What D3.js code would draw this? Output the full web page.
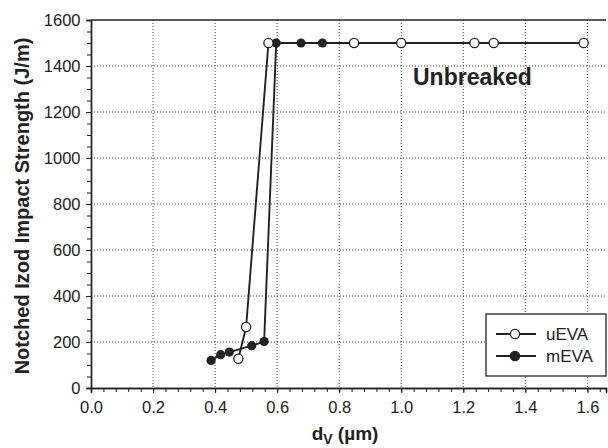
<!DOCTYPE html>
<html><head><meta charset="utf-8">
<script src="https://cdn.jsdelivr.net/npm/d3@7"></script>
<style>body{margin:0;background:#fff;} text{font-family:"Liberation Sans",Arial,sans-serif;fill:#222;}</style>
</head><body><svg id="c" width="608" height="448"></svg>
<script>
const uEVA_x = [0.475, 0.50, 0.572, 0.848, 1.00, 1.236, 1.298, 1.588];
const uEVA_y = [127, 265, 1500, 1500, 1500, 1500, 1500, 1500];
const mEVA_x = [0.387, 0.418, 0.446, 0.518, 0.558, 0.597, 0.677, 0.746];
const mEVA_y = [120, 145, 156, 184, 202, 1500, 1500, 1500];
const xTicks = [0.0,0.2,0.4,0.6,0.8,1.0,1.2,1.4,1.6];
const yTicks = [0,200,400,600,800,1000,1200,1400,1600];
const seriesNames = ["uEVA","mEVA"];

const svg = d3.select("#c");
const L=91, T=20, R=606, B=388;
const x = d3.scaleLinear().domain([0,1.66]).range([L,R]);
const y = d3.scaleLinear().domain([0,1600]).range([B,T]);
const ink="#222";

// grid
const g = svg.append("g");
g.selectAll(".gx").data(xTicks.filter(d=>d>0)).enter().append("line")
 .attr("x1",d=>x(d)).attr("x2",d=>x(d)).attr("y1",T).attr("y2",B)
 .attr("stroke","#444").attr("stroke-width",1).attr("stroke-dasharray","1,2");
g.selectAll(".gy").data(yTicks.filter(d=>d>0&&d<1600)).enter().append("line")
 .attr("x1",L).attr("x2",R).attr("y1",d=>y(d)).attr("y2",d=>y(d))
 .attr("stroke","#444").attr("stroke-width",1).attr("stroke-dasharray","1,2");

// top border
svg.append("line").attr("x1",L).attr("x2",R).attr("y1",T).attr("y2",T).attr("stroke",ink).attr("stroke-width",1.4);

// axes
const xMinor = d3.range(0,1.661,0.04);
const yMinor = d3.range(0,1601,50);
const xa = svg.append("g").attr("transform",`translate(0,${B})`);
xa.call(d3.axisBottom(x).tickValues(xMinor).tickSize(4).tickFormat(""));
xa.call(g2=>g2.append("g").call(d3.axisBottom(x).tickValues(xTicks).tickSize(5).tickFormat(d3.format(".1f"))));
xa.selectAll("path").attr("stroke",ink).attr("stroke-width",1.4);
xa.selectAll("line").attr("stroke",ink);
xa.selectAll("text").attr("font-size",16.5).attr("fill",ink).attr("dy","1.0em").style("font-family","Liberation Sans, Arial");

const ya = svg.append("g").attr("transform",`translate(${L},0)`);
ya.call(d3.axisLeft(y).tickValues(yMinor).tickSize(4).tickFormat(""));
ya.call(g2=>g2.append("g").call(d3.axisLeft(y).tickValues(yTicks).tickSize(5).tickFormat(d3.format("d"))));
ya.selectAll("path").attr("stroke",ink).attr("stroke-width",1.4);
ya.selectAll("line").attr("stroke",ink);
ya.selectAll("text").attr("font-size",16.5).attr("fill",ink).attr("dx","-0.15em").style("font-family","Liberation Sans, Arial");

// series
const line = d3.line().x(d=>x(d[0])).y(d=>y(d[1]));
const uPts = uEVA_x.map((v,i)=>[v,uEVA_y[i]]);
const mPts = mEVA_x.map((v,i)=>[v,mEVA_y[i]]);
svg.append("path").datum(mPts).attr("d",line).attr("fill","none").attr("stroke",ink).attr("stroke-width",1.9);
svg.append("path").datum(uPts).attr("d",line).attr("fill","none").attr("stroke",ink).attr("stroke-width",1.9);
svg.selectAll(".mp").data(mPts).enter().append("circle").attr("cx",d=>x(d[0])).attr("cy",d=>y(d[1])).attr("r",4.6).attr("fill",ink);
svg.selectAll(".up").data(uPts).enter().append("circle").attr("cx",d=>x(d[0])).attr("cy",d=>y(d[1])).attr("r",4.6).attr("fill","#fff").attr("stroke",ink).attr("stroke-width",1.3);

// annotation
svg.append("text").attr("x",413).attr("y",85).attr("font-size",23).attr("font-weight","bold").text("Unbreaked");

// legend
const lg = svg.append("g");
lg.append("rect").attr("x",486).attr("y",314).attr("width",120).attr("height",62).attr("fill","#fff").attr("stroke",ink).attr("stroke-width",1.3);
seriesNames.forEach((n,i)=>{
  const yy = 334 + i*22;
  lg.append("line").attr("x1",496).attr("x2",536).attr("y1",yy).attr("y2",yy).attr("stroke",ink).attr("stroke-width",1.9);
  lg.append("circle").attr("cx",515).attr("cy",yy).attr("r",4.6).attr("fill",i===0?"#fff":ink).attr("stroke",ink).attr("stroke-width",1.3);
  lg.append("text").attr("x",546).attr("y",yy+6).attr("font-size",17).text(n);
});

// axis titles
svg.append("text").attr("transform","translate(29,206) rotate(-90)").attr("text-anchor","middle")
  .attr("font-size",20).attr("font-weight","bold").text("Notched Izod Impact Strength (J/m)");
const xt = svg.append("text").attr("x",345).attr("y",440).attr("text-anchor","middle").attr("font-size",19).attr("font-weight","bold");
xt.append("tspan").text("d");
xt.append("tspan").attr("font-size",14).attr("dy",4).text("V");
xt.append("tspan").attr("dy",-4).text(" (\u00b5m)");
</script></body></html>
